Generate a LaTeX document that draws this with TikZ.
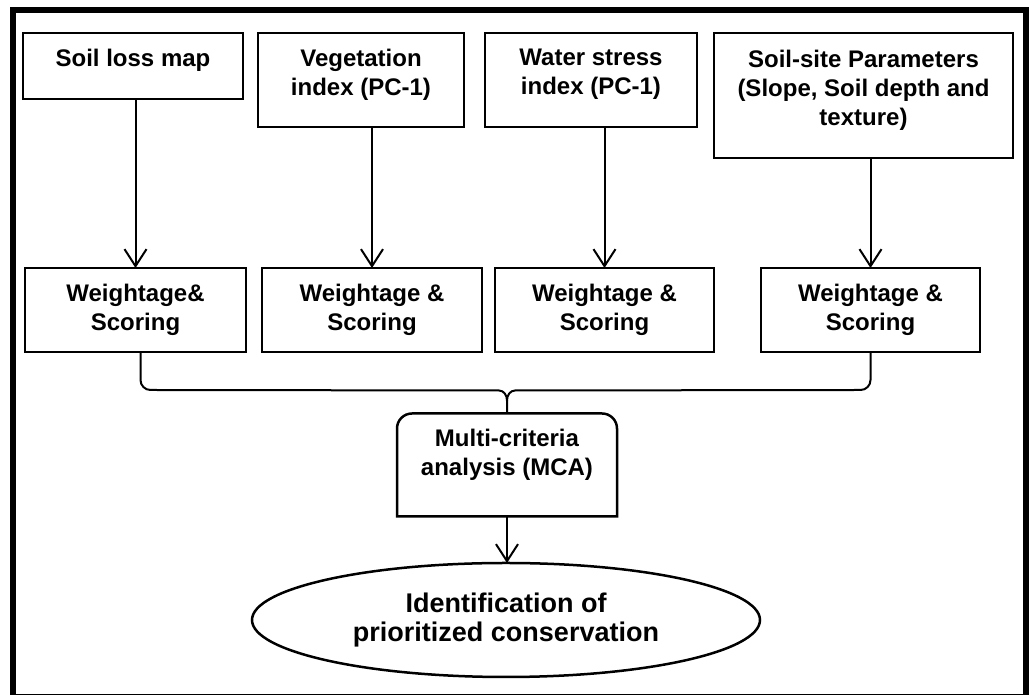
\documentclass[tikz,border=0pt]{standalone}
\usepackage{fontspec}
\setmainfont{Liberation Sans}
\usepackage{tikz}
\usetikzlibrary{
  shapes.geometric,
  arrows.meta,
  positioning, calc
}
\tikzset{
  % Plain input box
  ibox/.style={
    rectangle, draw=black, line width=2.5pt,
    fill=white, align=center,
    font=\fontsize{24pt}{29pt}\selectfont\bfseries,
    inner sep=4pt, outer sep=0pt
  },
  % Top row: text sits a bit high
  ibox top/.style={ibox, text depth=16pt},
  % MCA box (outline drawn by hand)
  mcabox/.style={ibox, draw=none, fill=none, text depth=26pt},
  % Final ellipse
  goal/.style={
    ellipse, draw=black, line width=2.5pt,
    align=center, inner sep=2pt, outer sep=0pt,
    font=\fontsize{27pt}{28.5pt}\selectfont\bfseries
  },
  % Arrows and lines
  arr/.style={-{Straight Barb[length=17pt,width=22pt,line width=2pt]}, line width=2pt},
  link/.style={line width=2pt},
  outline/.style={line width=6pt},
}

\begin{document}
\begin{tikzpicture}[x=1pt, y=1pt]

  \useasboundingbox (0,0) rectangle (1029,695);
  \draw[outline] (13,-2) rectangle (1025.5,685);

  %% Input layers
  \node[ibox top, minimum width=220pt, minimum height=66pt, anchor=north west]
    (loss) at (23,662) {Soil loss map};

  \node[ibox top, minimum width=206pt, minimum height=94pt,
        right=15pt of loss.north east, anchor=north west]
    (veg) {Vegetation\\index (PC-1)};

  \node[ibox top, minimum width=212pt, minimum height=94pt,
        right=21pt of veg.north east, anchor=north west]
    (water) {Water stress\\index (PC-1)};

  \node[ibox top, minimum width=299pt, minimum height=125pt,
        right=17pt of water.north east, anchor=north west]
    (site) {Soil-site Parameters\\(Slope, Soil depth and\\texture)};

  %% Weightage row
  \node[ibox, minimum width=221pt, minimum height=84pt, anchor=north west]
    (lossw) at (25,427) {Weightage\&\\Scoring};

  \node[ibox, minimum width=220pt, minimum height=84pt,
        right=16pt of lossw.north east, anchor=north west]
    (vegw) {Weightage \&\\Scoring};

  \node[ibox, minimum width=219pt, minimum height=84pt,
        right=13pt of vegw.north east, anchor=north west]
    (waterw) {Weightage \&\\Scoring};

  \node[ibox, minimum width=219pt, minimum height=84pt,
        right=47pt of waterw.north east, anchor=north west]
    (sitew) {Weightage \&\\Scoring};

  %% MCA and result
  \node[mcabox, minimum width=220pt, minimum height=103pt]
    (mca) at (507,230) {Multi-criteria\\analysis (MCA)};

  \node[goal, minimum width=508pt, minimum height=114pt]
    (prio) at (506,75) {Identification of\\prioritized conservation};

  %% MCA outline, round top corners only
  \draw[line width=2.5pt] (mca.south west)
    -- ([yshift=-15pt]mca.north west) to[out=90,in=180] ([xshift=15pt]mca.north west)
    -- ([xshift=-15pt]mca.north east) to[out=0,in=90] ([yshift=-15pt]mca.north east)
    -- (mca.south east) -- cycle;

  %% Arrows
  \draw[arr] (loss.south -| lossw.north)   -- (lossw.north);
  \draw[arr] (veg.south -| vegw.north)     -- (vegw.north);
  \draw[arr] (water.south -| waterw.north) -- (waterw.north);
  \draw[arr] (site.south -| sitew.north)   -- (sitew.north);
  \draw[arr] (mca.south) -- (mca.south |- prio.north);

  %% Brace joining the weightage boxes
  \coordinate (tip) at ([yshift=13pt]mca.north);
  \coordinate (bl) at ([xshift=5pt]lossw.south);
  \coordinate (br) at (sitew.south);
  \draw[link] (bl) -- ++(0,-28) to[out=-90,in=180] ++(10,-10)
    -- ($(tip)+(-8,10)$) to[out=0,in=90] (tip) -- (mca.north);
  \draw[link] (br) -- ++(0,-28) to[out=-90,in=0] ++(-10,-10)
    -- ($(tip)+(8,10)$) to[out=180,in=90] (tip);

\end{tikzpicture}
\end{document}
